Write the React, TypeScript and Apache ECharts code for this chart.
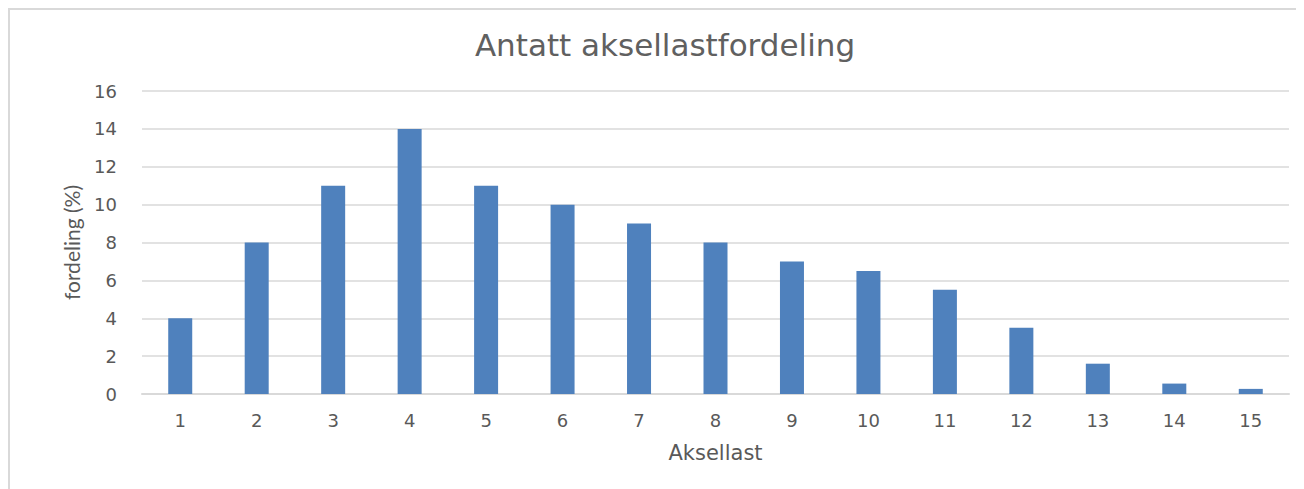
import React, { useEffect, useRef } from "react";
import * as echarts from "echarts";

const categories = ["1", "2", "3", "4", "5", "6", "7", "8", "9", "10", "11", "12", "13", "14", "15"];
const values = [4, 8, 11, 14, 11, 10, 9, 8, 7, 6.5, 5.5, 3.5, 1.6, 0.55, 0.27];
const titleText = "Antatt aksellastfordeling";
const xName = "Aksellast";
const yName = "fordeling (%)";

export default function App() {
  const ref = useRef<HTMLDivElement>(null);
  useEffect(() => {
    if (!ref.current) return;
    const chart = echarts.init(ref.current, null, { renderer: "svg" });
    const textColor = "#595959";
    chart.setOption({
      animation: false,
      backgroundColor: "#ffffff",
      title: {
        text: titleText,
        left: 652,
        textAlign: "center",
        top: 16,
        textStyle: { fontFamily: "DejaVu Sans", fontSize: 31, fontWeight: "normal", color: "#606060" },
      },
      graphic: [
        { type: "line", shape: { x1: 0, y1: 1, x2: 1288, y2: 1 }, style: { stroke: "#d9d9d9", lineWidth: 2 } },
        { type: "line", shape: { x1: 1, y1: 0, x2: 1, y2: 481 }, style: { stroke: "#d9d9d9", lineWidth: 2 } },
      ],
      grid: { left: 134, right: 15, top: 83, bottom: 95 },
      xAxis: {
        type: "category",
        data: categories,
        name: xName,
        nameLocation: "middle",
        nameGap: 48,
        nameTextStyle: { fontFamily: "DejaVu Sans", fontSize: 21, color: textColor },
        axisLine: { lineStyle: { color: "#d9d9d9", width: 2 } },
        axisTick: { show: false },
        axisLabel: { margin: 17, fontFamily: "DejaVu Sans", fontSize: 18, color: textColor },
      },
      yAxis: {
        type: "value",
        min: 0,
        max: 16,
        interval: 2,
        name: yName,
        nameLocation: "middle",
        nameRotate: 90,
        nameGap: 60,
        nameTextStyle: { fontFamily: "Liberation Sans Narrow, Lato", fontSize: 21, color: textColor },
        axisLine: { show: false },
        axisTick: { show: false },
        splitLine: { lineStyle: { color: "#d9d9d9", width: 1.5 } },
        axisLabel: { margin: 25, fontFamily: "DejaVu Sans", fontSize: 18, color: textColor },
      },
      series: [
        {
          type: "bar",
          data: values,
          barWidth: 24,
          itemStyle: { color: "#4f81bd" },
        },
      ],
    });
    return () => chart.dispose();
  }, []);
  return <div ref={ref} style={{ width: 1296, height: 481 }} />;
}
